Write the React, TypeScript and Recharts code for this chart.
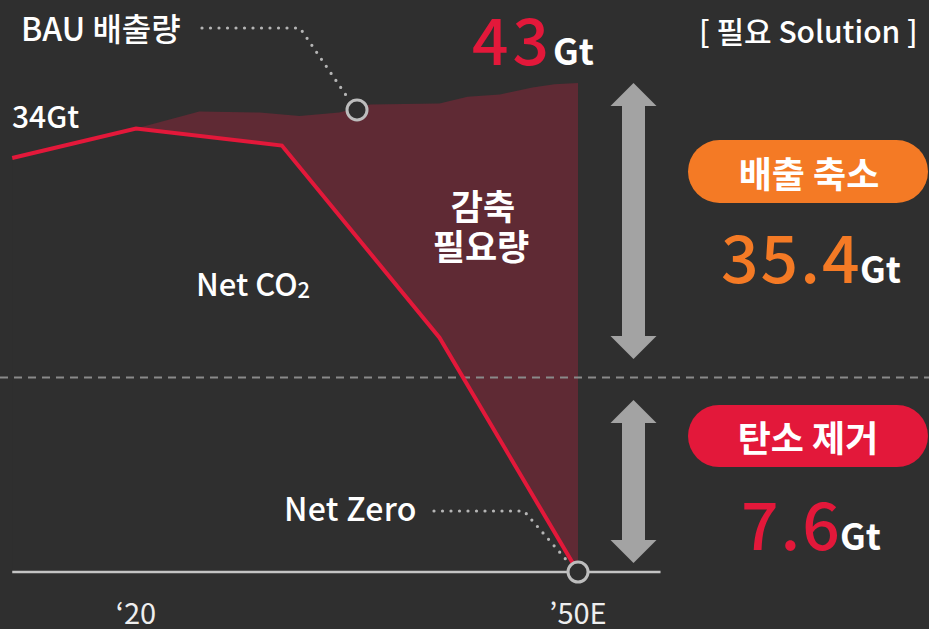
import React from 'react';
import {
    Area,
    ComposedChart,
    Line,
    ReferenceDot,
    ReferenceLine,
    XAxis,
    YAxis,
} from 'recharts';

// Net CO2 path (year, Gt)
const netYears = [2011.6, 2020, 2029.9, 2040.6, 2050];
const netValues = [36.4, 39.0, 37.5, 20.6, 0];

// BAU emissions path (year, Gt)
const bauYears = [2020, 2024.3, 2028.4, 2031.1, 2033.8, 2035.9, 2040.6, 2042.5, 2044.7, 2046.9, 2048.4, 2050];
const bauValues = [39.0, 40.5, 40.4, 40.1, 40.4, 41.1, 41.2, 41.8, 42.0, 42.6, 42.9, 43.0];

const tickYears = [2020, 2050];
const tickLabels = ['‘20', '’50E'];

const removalLevel = 17.1; // split between 감축 and 제거
const axisStart = 2011.6;
const axisEnd = 2055.6;

const BG = '#2f2f2f';
const RED = '#e3183a';
const ORANGE = '#f47a25';
const GREY = '#a3a3a3';
const FONT = '"Noto Sans CJK KR", "Noto Sans", sans-serif';

const netData = netYears.map((year, i) => ({ year, net: netValues[i] }));
const bauData = bauYears.map((year, i) => ({ year, bau: bauValues[i] }));

const W = 929;
const H = 629;

const YearTick = (props: any) => {
    const { x, payload } = props;
    const idx = tickYears.indexOf(payload.value);
    return (
        <text x={x} y={624} textAnchor="middle" fill="#eeeeee" fontSize={29} fontFamily={FONT}>
            {tickLabels[idx]}
        </text>
    );
};

const arrow = (cx: number, top: number, bottom: number) => {
    const hw = 23;
    const sw = 11.5;
    const hh = 23;
    const pts = [
        [cx, top],
        [cx + hw, top + hh],
        [cx + sw, top + hh],
        [cx + sw, bottom - hh],
        [cx + hw, bottom - hh],
        [cx, bottom],
        [cx - hw, bottom - hh],
        [cx - sw, bottom - hh],
        [cx - sw, top + hh],
        [cx - hw, top + hh],
    ];
    return <polygon points={pts.map((p) => p.join(',')).join(' ')} fill={GREY} />;
};

const dotted = { stroke: '#b5b5b5', strokeWidth: 3.2, strokeDasharray: '0 8.5', strokeLinecap: 'round' as const, fill: 'none' };

const NoDot = () => <g />;

export default function App() {
    return (
        <div style={{ position: 'fixed', left: 0, top: 0, width: W, height: H, background: BG, fontFamily: FONT, overflow: 'hidden' }}>
            <ComposedChart width={W} height={H} margin={{ top: 0, right: 0, bottom: 0, left: 0 }}>
                <XAxis
                    dataKey="year"
                    type="number"
                    domain={[2010.77, 2073.82]}
                    ticks={tickYears}
                    tick={<YearTick />}
                    axisLine={false}
                    tickLine={false}
                    height={57}
                    allowDataOverflow
                />
                <YAxis type="number" domain={[0, 50.3]} hide allowDataOverflow />
                <Area
                    data={bauData}
                    dataKey="bau"
                    type="linear"
                    stroke="none"
                    fill="#5f2a34"
                    fillOpacity={1}
                    dot={false}
                    activeDot={false}
                    isAnimationActive={false}
                />
                <Area
                    data={netData}
                    dataKey="net"
                    type="linear"
                    stroke="none"
                    fill={BG}
                    fillOpacity={1}
                    dot={false}
                    activeDot={false}
                    isAnimationActive={false}
                />
                <ReferenceLine y={removalLevel} stroke="#8a8a8a" strokeWidth={2} strokeDasharray="8 6" />
                <ReferenceLine
                    segment={[{ x: axisStart, y: 0 }, { x: axisEnd, y: 0 }]}
                    stroke="#c4c4c4"
                    strokeWidth={2.5}
                />
                <Line
                    data={netData}
                    dataKey="net"
                    type="linear"
                    stroke={RED}
                    strokeWidth={4}
                    dot={<NoDot />}
                    activeDot={false}
                    isAnimationActive={false}
                />
                <ReferenceDot x={2035.0} y={40.63} r={10} fill={BG} stroke="#bdbdbd" strokeWidth={3} />
                <ReferenceDot x={2050} y={0} r={10} fill={BG} stroke="#bdbdbd" strokeWidth={3} />
            </ComposedChart>

            <svg width={W} height={H} style={{ position: 'absolute', left: 0, top: 0, pointerEvents: 'none' }} fontFamily={FONT}>
                {/* leaders */}
                <polyline points="202,28 300,28 350,101" {...dotted} />
                <polyline points="434,511 524,511 569,563" {...dotted} />

                <text x={21} y={41} fill="#ffffff" fontSize={32} fontWeight={500}>BAU 배출량</text>
                <text x={12} y={128} fill="#ffffff" fontSize={30} fontWeight={500}>34Gt</text>

                <text x={472} y={65} fill={RED} fontSize={64} fontWeight={500} letterSpacing={4}>43</text>
                <text x={553} y={65} fill="#ffffff" fontSize={36} fontWeight={700}>Gt</text>

                <text x={699} y={43} fill="#ffffff" fontSize={30} fontWeight={500}>[ 필요 Solution ]</text>

                <text x={483} y={220} fill="#ffffff" fontSize={35} fontWeight={700} textAnchor="middle">감축</text>
                <text x={481} y={260} fill="#ffffff" fontSize={35} fontWeight={700} textAnchor="middle">필요량</text>

                <text x={196} y={296} fill="#ffffff" fontSize={31} fontWeight={500}>
                    Net CO<tspan fontSize={22} dy={2}>2</tspan>
                </text>
                <text x={284} y={521} fill="#ffffff" fontSize={32} fontWeight={500} letterSpacing={0.3}>Net Zero</text>

                {arrow(633.5, 83, 359)}
                {arrow(633.5, 400, 563)}

                <rect x={688} y={140} width={240} height={63} rx={31.5} fill={ORANGE} />
                <text x={809} y={172} fill="#ffffff" fontSize={36} fontWeight={700} textAnchor="middle" dominantBaseline="central">배출 축소</text>
                <text x={721} y={283} fill={ORANGE} fontSize={66} fontWeight={500} letterSpacing={2}>35.4</text>
                <text x={860} y={283} fill="#ffffff" fontSize={36} fontWeight={700}>Gt</text>

                <rect x={688} y={405} width={240} height={62} rx={31} fill={RED} />
                <text x={808} y={436} fill="#ffffff" fontSize={36} fontWeight={700} textAnchor="middle" dominantBaseline="central">탄소 제거</text>
                <text x={741} y={550} fill={RED} fontSize={66} fontWeight={500} letterSpacing={2}>7.6</text>
                <text x={840} y={550} fill="#ffffff" fontSize={36} fontWeight={700}>Gt</text>
            </svg>
        </div>
    );
}
